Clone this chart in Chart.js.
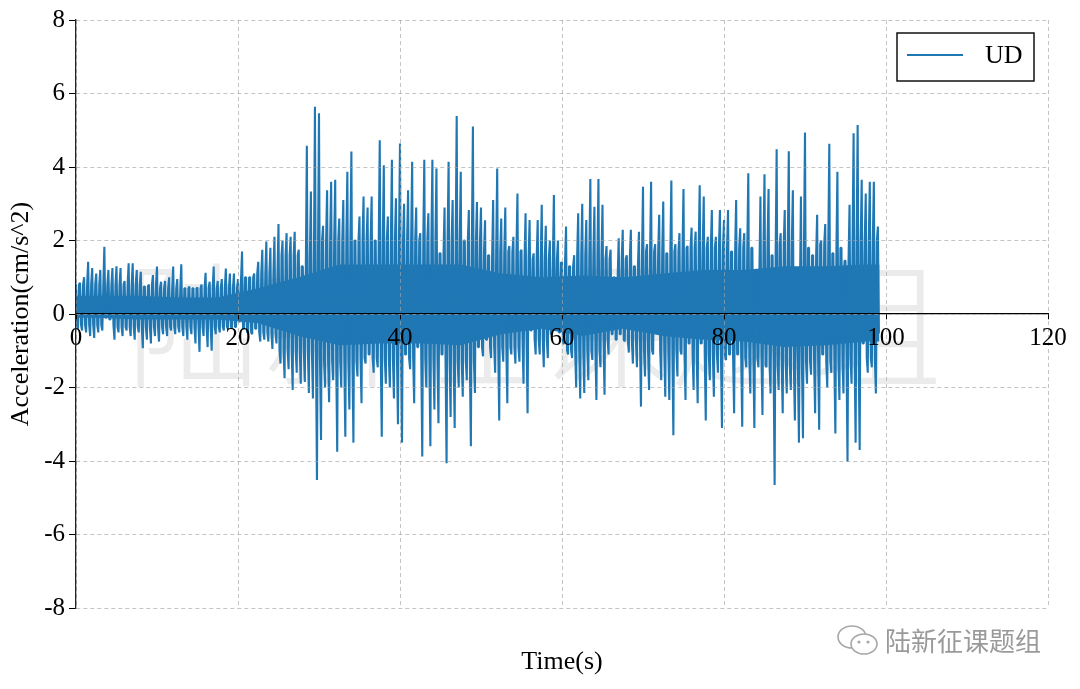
<!DOCTYPE html>
<html>
<head>
  <title>UD Acceleration</title>
  <script src="https://cdn.jsdelivr.net/npm/chart.js"></script>
  <style>
    body { margin: 0; background: #fff; }
    #wrap { position: relative; width: 1080px; height: 689px; overflow: hidden; }
    #watermark {
      position: absolute; left: 126px; top: 250px;
      font: 300 136px 'Noto Sans CJK SC', sans-serif; color: #ebebeb;
      white-space: nowrap; line-height: 1;
    }
    #chart { position: absolute; left: 0; top: 0; }
    #brand {
      position: absolute; left: 885px; top: 624px;
      font: 26px 'Noto Sans CJK SC', sans-serif; color: #9a9a9a;
      white-space: nowrap; line-height: 1.2;
    }
    #icon { position: absolute; left: 835px; top: 623px; }
  </style>
</head>
<body>
  <div id="wrap">
    <div id="watermark">陆新征课题组</div>
    <canvas id="chart" width="1080" height="689"></canvas>
    <svg id="icon" width="48" height="36" viewBox="0 0 48 36">
      <ellipse cx="17" cy="14" rx="14" ry="11" fill="#fff" stroke="#a8a8a8" stroke-width="1.6"/>
      <ellipse cx="29" cy="21" rx="13" ry="10" fill="#fff" stroke="#a8a8a8" stroke-width="1.6"/>
      <circle cx="24" cy="19" r="1.6" fill="#a8a8a8"/>
      <circle cx="33" cy="19" r="1.6" fill="#a8a8a8"/>
    </svg>
    <div id="brand">陆新征课题组</div>
  </div>

  <script>
    // peaks at t = 0, 0.5, 1.0 ... ; troughs half a step later
    const sampleStep = 0.5;
    const seriesLabel = 'UD';

    const peakValues = [
      0.8, 0.85, 1.0, 1.42, 1.25, 1.1, 1.2, 1.83, 1.2, 1.25,
      1.3, 1.25, 0.9, 1.38, 1.38, 1.2, 1.15, 0.75, 0.8, 1.06,
      1.29, 0.88, 0.9, 1.0, 1.29, 0.95, 1.35, 0.7, 0.75, 0.7,
      0.72, 0.8, 1.12, 0.88, 1.29, 0.9, 0.95, 1.24, 1.1, 1.1,
      0.95, 1.7, 1.0, 1.0, 1.1, 1.42, 1.75, 1.97, 1.8, 2.1,
      2.45, 2.0, 2.2, 2.1, 2.24, 1.75, 1.3, 4.58, 3.33, 5.64,
      5.46, 2.4, 3.37, 3.6, 3.65, 2.6, 3.1, 3.87, 4.42, 2.0,
      2.65, 3.2, 2.9, 3.2, 2.0, 4.73, 4.05, 2.65, 4.2, 3.15,
      4.64, 3.0, 3.37, 4.14, 2.9, 2.2, 4.2, 2.74, 4.2, 3.96,
      1.65, 2.9, 4.14, 3.1, 5.39, 3.87, 2.0, 2.83, 5.1, 3.05,
      2.9, 2.55, 1.6, 3.1, 3.96, 2.6, 2.9, 1.85, 2.1, 3.28,
      1.75, 2.74, 2.56, 1.65, 2.56, 2.97, 2.4, 2.0, 3.24, 2.0,
      1.4, 2.38, 1.3, 1.6, 2.74, 3.0, 2.56, 3.67, 2.92, 3.67,
      2.97, 1.85, 1.75, 1.0, 2.06, 2.29, 1.6, 2.29, 1.3, 2.24,
      3.46, 1.9, 3.6, 1.9, 2.7, 3.06, 1.65, 3.63, 1.9, 2.2,
      3.4, 1.85, 2.35, 2.24, 3.5, 3.2, 2.1, 2.83, 2.1, 2.83,
      2.56, 2.83, 1.7, 3.1, 2.33, 2.2, 3.83, 1.8, 1.2, 3.2,
      3.8, 3.4, 1.6, 4.48, 2.2, 2.83, 4.43, 3.37, 0.65, 3.2,
      4.94, 1.8, 1.6, 2.7, 2.0, 2.45, 4.63, 1.65, 3.87, 1.8,
      1.45, 2.97, 4.92, 5.14, 3.65, 3.28, 3.6, 3.6, 2.38
    ];

    const troughValues = [
      -0.4, -0.45, -0.5, -0.6, -0.65, -0.5, -0.45, -0.1, -0.15, -0.7,
      -0.5, -0.6, -0.45, -0.6, -0.7, -0.5, -0.93, -0.7, -0.8, -0.6,
      -0.75, -0.55, -0.6, -0.45, -0.55, -0.5, -0.6, -0.7, -0.55, -0.8,
      -1.03, -0.6, -0.9, -1.0, -0.55, -0.5, -0.45, -0.4, -0.4, -0.35,
      -0.2, -0.4, -0.5, -0.55, -0.4, -0.75, -0.7, -0.75, -0.95, -0.8,
      -1.35, -1.75, -1.5, -2.07, -1.6, -1.9, -1.85, -2.15, -2.3, -4.52,
      -3.43, -2.0, -2.4, -1.8, -3.75, -2.0, -3.34, -2.6, -3.5, -1.7,
      -2.43, -1.35, -1.1, -1.6, -1.45, -3.34, -1.9, -2.0, -2.3, -3.0,
      -3.5, -1.1, -1.5, -2.43, -0.9, -3.88, -2.0, -3.6, -2.6, -2.97,
      -1.1, -4.06, -2.8, -3.1, -2.0, -2.25, -1.8, -3.6, -2.15, -0.9,
      -1.15, -0.7, -1.2, -1.6, -2.9, -1.3, -2.43, -1.1, -1.35, -1.3,
      -1.9, -2.7, -0.45, -1.1, -1.1, -1.45, -1.2, -0.55, -0.35, -0.5,
      -0.8, -1.1, -1.2, -2.0, -2.3, -2.15, -1.8, -1.25, -2.34, -1.45,
      -2.2, -1.1, -0.55, -0.7, -0.55, -0.75, -1.05, -1.35, -1.45, -2.52,
      -1.7, -2.07, -1.1, -0.5, -1.8, -2.25, -2.34, -3.3, -1.7, -1.1,
      -2.34, -0.8, -2.07, -2.43, -0.8, -2.9, -1.8, -2.25, -1.6, -3.1,
      -1.25, -1.1, -2.7, -1.1, -3.07, -1.45, -2.16, -3.1, -1.45, -2.75,
      -1.45, -2.16, -4.65, -2.07, -2.7, -2.16, -2.07, -2.9, -3.5, -3.38,
      -1.9, -1.65, -2.7, -3.15, -1.1, -2.0, -1.6, -3.25, -2.34, -2.16,
      -4.02, -1.9, -3.5, -3.7, -0.8, -1.6, -1.45, -2.16, -0.5
    ];

    // one value per 5 s: outer edge of the dense part and the fully solid inner core
    const bandSpan = 5;
    const bandTop = [0.8, 0.8, 0.7, 0.7, 1.1, 1.6, 2.0, 2.0, 2.0, 2.0,
                     1.7, 1.5, 1.6, 1.5, 1.7, 1.8, 1.8, 1.9, 1.9, 2.0];
    const bandBottom = [-0.3, -0.35, -0.35, -0.35, -0.5, -1.0, -1.3, -1.2, -1.2, -1.3,
                        -0.9, -0.7, -1.0, -0.7, -1.0, -1.1, -1.2, -1.4, -1.3, -1.2];
    const solidTop = [0.5, 0.5, 0.45, 0.45, 0.7, 1.0, 1.35, 1.35, 1.35, 1.35,
                      1.1, 1.0, 1.05, 1.0, 1.1, 1.2, 1.2, 1.3, 1.3, 1.35];
    const solidBottom = [-0.1, -0.15, -0.15, -0.15, -0.25, -0.6, -0.85, -0.8, -0.8, -0.85,
                         -0.55, -0.4, -0.6, -0.4, -0.6, -0.7, -0.75, -0.9, -0.85, -0.75];
    const traceEnd = 99.2;

    const xTickValues = [0, 20, 40, 60, 80, 100, 120];
    const yTickValues = [-8, -6, -4, -2, 0, 2, 4, 6, 8];

    const lineColor = '#1f77b4';
    const gridColor = 'rgba(165,165,165,0.65)';
    const serif = "'Liberation Serif', 'Times New Roman', serif";

    // peak -> band bottom -> trough -> band top -> next peak
    const points = [];
    for (let i = 0; i < peakValues.length; i++) {
      const t = i * sampleStep;
      const b = Math.min(Math.floor(t / bandSpan), bandTop.length - 1);
      points.push({ x: t, y: peakValues[i] });
      if (i >= troughValues.length) break;
      const trough = troughValues[i];
      points.push({ x: t + sampleStep / 4, y: Math.max(bandBottom[b], trough) });
      points.push({ x: t + sampleStep / 2, y: trough });
      if (i + 1 < peakValues.length) {
        const top = Math.min(bandTop[b], peakValues[i], peakValues[i + 1]);
        points.push({ x: t + sampleStep * 3 / 4, y: top });
      }
    }

    function bandPoints(values) {
      const pts = [{ x: 0, y: values[0] }];
      values.forEach((v, k) => pts.push({ x: k * bandSpan + bandSpan / 2, y: v }));
      pts.push({ x: traceEnd, y: values[values.length - 1] });
      return pts;
    }

    // legend box in the top right corner of the plot
    const boxLegend = {
      id: 'boxLegend',
      afterDraw(chart) {
        const { ctx, chartArea } = chart;
        const ds = chart.data.datasets[0];
        const right = chartArea.right - 14, top = chartArea.top + 13;
        const w = 137, h = 48;
        const left = right - w;
        ctx.save();
        ctx.fillStyle = '#fff';
        ctx.fillRect(left, top, w, h);
        ctx.strokeStyle = '#000';
        ctx.lineWidth = 1.4;
        ctx.strokeRect(left, top, w, h);
        ctx.strokeStyle = ds.borderColor;
        ctx.lineWidth = 2;
        ctx.beginPath();
        ctx.moveTo(left + 10, top + 22);
        ctx.lineTo(left + 66, top + 22);
        ctx.stroke();
        ctx.fillStyle = '#000';
        ctx.font = '26px ' + serif;
        ctx.textBaseline = 'middle';
        ctx.fillText(ds.label, left + 88, top + 23);
        ctx.restore();
      }
    };

    // x title sits under the plot because the x axis is drawn at y = 0
    const xTitle = {
      id: 'xTitle',
      afterDraw(chart) {
        const { ctx, chartArea } = chart;
        ctx.save();
        ctx.fillStyle = '#000';
        ctx.font = '26px ' + serif;
        ctx.textAlign = 'center';
        ctx.textBaseline = 'middle';
        ctx.fillText('Time(s)', (chartArea.left + chartArea.right) / 2, 662);
        ctx.restore();
      }
    };

    new Chart(document.getElementById('chart'), {
      type: 'line',
      data: {
        datasets: [{
          label: seriesLabel,
          data: points,
          borderColor: lineColor,
          borderWidth: 2.1,
          borderJoinStyle: 'bevel',
          pointRadius: 0,
          tension: 0,
          fill: false
        }, {
          label: 'core top',
          data: bandPoints(solidTop),
          borderWidth: 0,
          pointRadius: 0,
          backgroundColor: lineColor,
          fill: '+1'
        }, {
          label: 'core bottom',
          data: bandPoints(solidBottom),
          borderWidth: 0,
          pointRadius: 0,
          fill: false
        }]
      },
      options: {
        responsive: false,
        animation: false,
        events: [],
        layout: { padding: { left: 0, top: 20, right: 32, bottom: 81 } },
        plugins: { legend: { display: false }, tooltip: { enabled: false } },
        scales: {
          x: {
            type: 'linear',
            min: 0, max: 120,
            position: { y: 0 },
            afterBuildTicks: s => { s.ticks = xTickValues.map(v => ({ value: v })); },
            grid: { color: gridColor, lineWidth: 1, tickColor: '#000', tickLength: 5, tickWidth: 1, z: 1 },
            border: { color: '#000', width: 1.3, dash: [4, 3], z: 1 },
            ticks: { color: '#000', font: { family: serif, size: 25 }, padding: 4, maxRotation: 0, autoSkip: false, z: 1 }
          },
          y: {
            type: 'linear',
            min: -8, max: 8,
            position: 'left',
            afterBuildTicks: s => { s.ticks = yTickValues.map(v => ({ value: v })); },
            afterFit: s => { s.width = 76; },
            grid: { color: gridColor, lineWidth: 1, tickColor: '#000', tickLength: 7, tickWidth: 1, z: 1 },
            border: { color: '#222', width: 1.3, dash: [4, 3], z: 1 },
            ticks: { color: '#000', font: { family: serif, size: 25 }, padding: 4, z: 1, callback: v => String(v) },
            title: {
              display: true, text: 'Acceleration(cm/s^2)', color: '#000',
              font: { family: serif, size: 26 }, padding: { top: 6, bottom: 0 }
            }
          }
        }
      },
      plugins: [boxLegend, xTitle]
    });
  </script>
</body>
</html>
